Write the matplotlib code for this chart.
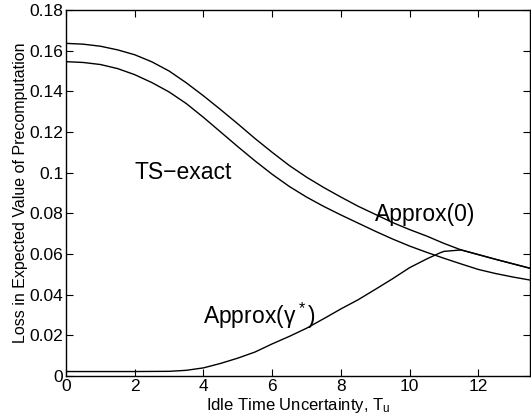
import matplotlib
matplotlib.use('Agg')
from matplotlib import pyplot as plt
from matplotlib.ticker import FuncFormatter

plt.rcParams['font.family'] = ['Liberation Sans', 'DejaVu Sans']
plt.rcParams['mathtext.fontset'] = 'custom'
plt.rcParams['mathtext.rm'] = 'Liberation Sans'
plt.rcParams['mathtext.it'] = 'Liberation Sans'
plt.rcParams['mathtext.bf'] = 'Liberation Sans:bold'

# curves
x_main = [0, 0.5, 1, 1.5, 2, 2.5, 3, 3.5, 4, 4.5, 5, 5.5, 6, 6.5, 7, 7.5,
          8, 8.5, 9, 9.5, 10, 10.5, 11, 11.5, 12, 12.5, 13, 13.5]
approx0 = [0.1636, 0.1632, 0.1622, 0.1604, 0.1580, 0.1545, 0.1500, 0.1442,
           0.1378, 0.1310, 0.1240, 0.1168, 0.1100, 0.1035, 0.0978, 0.0927,
           0.0880, 0.0835, 0.0795, 0.0755, 0.0720, 0.0688, 0.0652, 0.0620,
           0.0597, 0.0574, 0.0552, 0.0530]
ts_exact = [0.1546, 0.1542, 0.1532, 0.1512, 0.1482, 0.1443, 0.1397, 0.1340,
            0.1272, 0.1200, 0.1128, 0.1058, 0.0992, 0.0932, 0.0880, 0.0834,
            0.0792, 0.0752, 0.0712, 0.0674, 0.0639, 0.0608, 0.0579, 0.0551,
            0.0524, 0.0504, 0.0487, 0.0472]

x_gamma = [0, 1, 2, 3, 3.5, 4, 4.5, 5, 5.5, 6, 6.5, 7, 7.5, 8, 8.5, 9, 9.5,
           10, 10.5, 10.9, 11.0, 11.5, 12, 12.5, 13, 13.5]
approx_gamma = [0.0022, 0.0022, 0.0022, 0.0023, 0.0028, 0.0040, 0.0062, 0.0088,
                0.0118, 0.0158, 0.0195, 0.0235, 0.0282, 0.0330, 0.0375, 0.0426,
                0.0478, 0.0533, 0.0576, 0.0607, 0.0613, 0.0620, 0.0597, 0.0574,
                0.0552, 0.0530]

x_ticks = [0, 2, 4, 6, 8, 10, 12]
y_ticks = [0, 0.02, 0.04, 0.06, 0.08, 0.1, 0.12, 0.14, 0.16, 0.18]

fig = plt.figure(figsize=(5.31, 4.19), dpi=100)
ax = fig.add_axes([0.1243, 0.1026, 0.8737, 0.8735])

ax.plot(x_main, approx0, color='black', lw=1.0)
ax.plot(x_main, ts_exact, color='black', lw=1.0)
ax.plot(x_gamma, approx_gamma, color='black', lw=1.0)

ax.text(2.0, 0.1, 'TS\u2212exact', fontsize=16.5, va='center', ha='left')
ax.text(9.0, 0.0792, 'Approx(0)', fontsize=16.5, va='center', ha='left')
ax.text(4.0, 0.0295, 'Approx($\\gamma^*$)', fontsize=16.5, va='center', ha='left')

ax.set_xlim(0, 13.5)
ax.set_ylim(0, 0.18)
ax.set_xticks(x_ticks)
ax.set_yticks(y_ticks)
ax.yaxis.set_major_formatter(FuncFormatter(lambda v, p: '%g' % v))
ax.tick_params(direction='in', top=True, right=True, length=5, labelsize=12.5, pad=2)
for s in ax.spines.values():
    s.set_linewidth(1.0)

ax.set_xlabel('Idle Time Uncertainty, T$_\\mathrm{u}$', fontsize=12, labelpad=1.5)
ax.set_ylabel('Loss in Expected Value of Precomputation', fontsize=11.5, labelpad=1)

plt.savefig('out.png', dpi=100)
plt.close()
